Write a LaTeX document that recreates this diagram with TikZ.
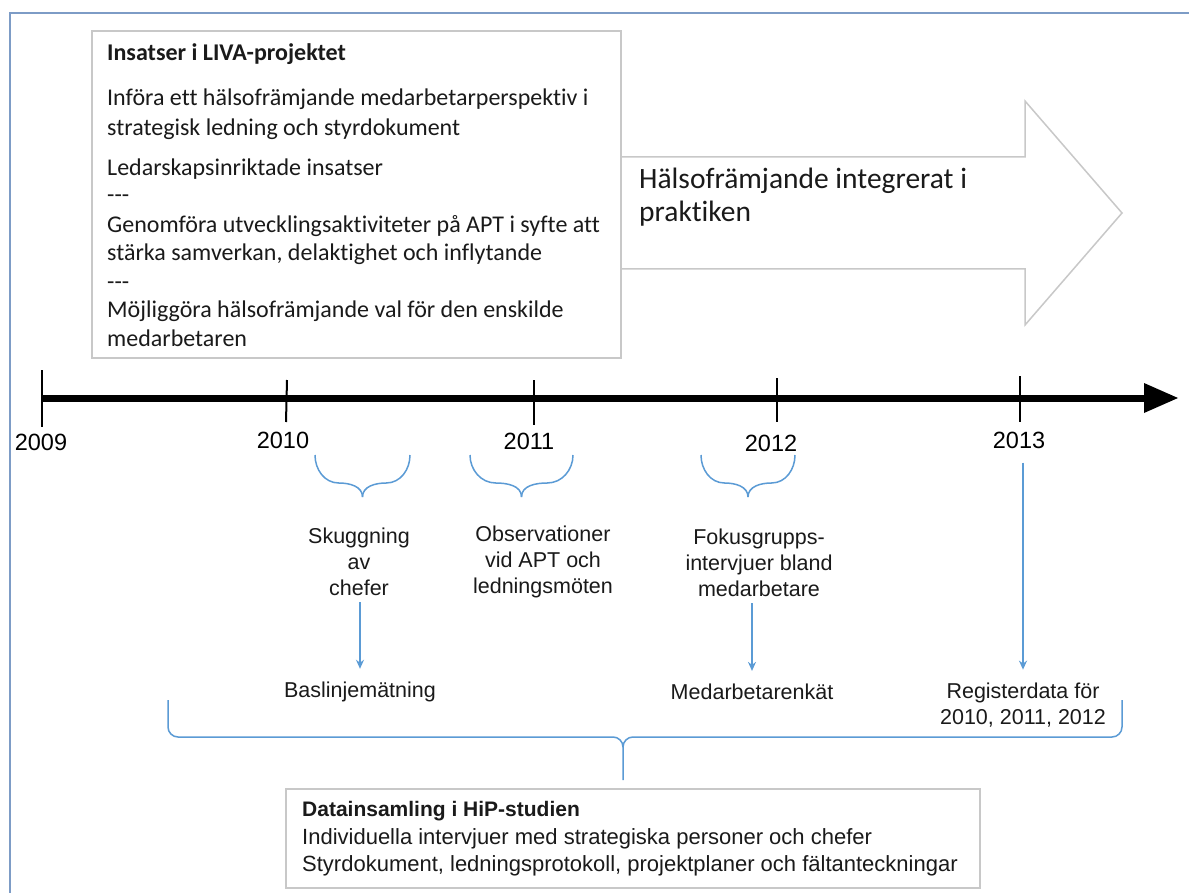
\documentclass[tikz,border=0pt]{standalone}
\usepackage{fontspec}
\setmainfont{Carlito}[Ligatures={NoCommon}]
\newfontfamily\arialf{Liberation Sans}
\usetikzlibrary{arrows.meta}
\definecolor{frameblue}{HTML}{7D9CC6}
\definecolor{lineblue}{HTML}{5B9BD5}
\definecolor{boxgray}{HTML}{C8C8C8}
\definecolor{txt}{HTML}{1A1A1A}
\tikzset{
  graybox/.style={draw=boxgray, line width=2pt, fill=white, inner sep=0pt},
  livatext/.style={anchor=base west, inner sep=0pt, text=txt, font=\fontsize{24}{29}\selectfont},
  yearlbl/.style={inner sep=2pt, text=black, font=\arialf\fontsize{23.5}{27}\selectfont},
  lowtext/.style={align=center, inner sep=3pt, text=txt, font=\arialf\fontsize{21.5}{26}\selectfont},
  hiptext/.style={anchor=base west, inner sep=0pt, text=txt, font=\arialf\fontsize{22}{26}\selectfont},
  bluearrow/.style={draw=lineblue, line width=1.5pt, -{Stealth[length=9pt,width=8pt]}},
  bluebrace/.style={draw=lineblue, line width=1.5pt},
  tick/.style={draw=black, line width=2pt},
}
\begin{document}
\begin{tikzpicture}[x=1pt,y=-1pt]
\useasboundingbox (0,0) rectangle (1189,893);
\fill[white] (0,0) rectangle (1189,893);
% outer frame
\draw[frameblue, line width=2.5pt] (10,893) -- (10,13) -- (1189,13);

% big arrow
\draw[boxgray, line width=1.5pt, fill=white]
  (621,157) -- (1025,157) -- (1025,101) -- (1122,213) -- (1025,325) -- (1025,269) -- (621,269) -- cycle;
\node[anchor=west, align=left, inner sep=0pt, text=txt, font=\fontsize{29.5}{33}\selectfont] (integ) at (639,197)
  {Hälsofrämjande integrerat i\\praktiken};

% LIVA box
\node[graybox, minimum width=529pt, minimum height=327pt] (liva) at (356.5,194.5) {};
\node[livatext, font=\bfseries\fontsize{24}{29}\selectfont] (l0) at (107,61) {Insatser i LIVA-projektet};
\node[livatext] (l1) at (107,106) {Införa ett hälsofrämjande medarbetarperspektiv i};
\node[livatext] (l2) at (107,136) {strategisk ledning och styrdokument};
\node[livatext] (l3) at (107,176) {Ledarskapsinriktade insatser};
\node[livatext] (l4) at (107,203) {{-}{-}{-}};
\node[livatext] (l5) at (107,233) {Genomföra utvecklingsaktiviteter på APT i syfte att};
\node[livatext] (l6) at (107,261) {stärka samverkan, delaktighet och inflytande};
\node[livatext] (l7) at (107,290) {{-}{-}{-}};
\node[livatext] (l8) at (107,318) {Möjliggöra hälsofrämjande val för den enskilde};
\node[livatext] (l9) at (107,347) {medarbetaren};

% timeline
\draw[black, line width=7pt] (42,398) -- (1146,398);
\fill[black] (1144,383) -- (1178,398) -- (1144,413) -- cycle;
\draw[tick] (42,370) -- (42,427);
\draw[tick] (287,380) -- (286,422);
\draw[tick] (534,380) -- (534,425);
\draw[tick] (777,378) -- (777,422);
\draw[tick] (1020,376) -- (1020,422);
\node[yearlbl] (y2009) at (41,442) {2009};
\node[yearlbl] (y2010) at (283,440) {2010};
\node[yearlbl] (y2011) at (529,441) {2011};
\node[yearlbl] (y2012) at (771,443) {2012};
\node[yearlbl] (y2013) at (1019,440) {2013};

% small braces
\foreach \xl/\xr in {315/410, 470/573, 701/795}{
  \pgfmathsetmacro{\xc}{(\xl+\xr)/2}
  \pgfmathsetmacro{\xa}{(\xl+\xc)/2}
  \pgfmathsetmacro{\xb}{(\xr+\xc)/2}
  \draw[bluebrace] (\xl,455) to[out=-90,in=180] (\xa,483) to[out=0,in=90] (\xc,497);
  \draw[bluebrace] (\xr,455) to[out=-90,in=0] (\xb,483) to[out=180,in=90] (\xc,497);
}

% lower texts
\node[lowtext] (skug) at (359,562) {Skuggning\\av\\chefer};
\node[lowtext] (obs) at (543,562) {Observationer\\vid APT och\\ledningsmöten};
\node[lowtext] (fok) at (759,563) {Fokusgrupps-\\intervjuer bland\\medarbetare};
\node[lowtext] (basl) at (360,692) {Baslinjemätning};
\node[lowtext] (medenk) at (752,692) {Medarbetarenkät};
\node[lowtext] (reg) at (1023,705) {Registerdata för\\2010, 2011, 2012};

\draw[bluearrow, shorten <=3pt, shorten >=10pt] (skug.south -| basl.north) -- (basl.north);
\draw[bluearrow, shorten <=3pt, shorten >=10pt] (fok.south -| medenk.north) -- (medenk.north);
\draw[bluearrow, shorten <=12pt, shorten >=10pt] (y2013.south -| reg.north) -- (reg.north);

% big brace
\draw[bluebrace] (168,700) -- (168,727) to[out=-90,in=180] (178,737) -- (613,737)
  to[out=0,in=90] (623,747) -- (623,780);
\draw[bluebrace] (1122,700) -- (1122,727) to[out=-90,in=0] (1112,737) -- (633,737)
  to[out=180,in=90] (623,747);

% HiP box
\node[graybox, minimum width=694pt, minimum height=99pt] (hip) at (633,838.5) {};
\node[hiptext, font=\arialf\bfseries\fontsize{21}{26}\selectfont] (h0) at (302,816) {Datainsamling i HiP-studien};
\node[hiptext] (h1) at (302,844) {Individuella intervjuer med strategiska personer och chefer};
\node[hiptext] (h2) at (302,871) {Styrdokument, ledningsprotokoll, projektplaner och fältanteckningar};
\end{tikzpicture}
\end{document}
